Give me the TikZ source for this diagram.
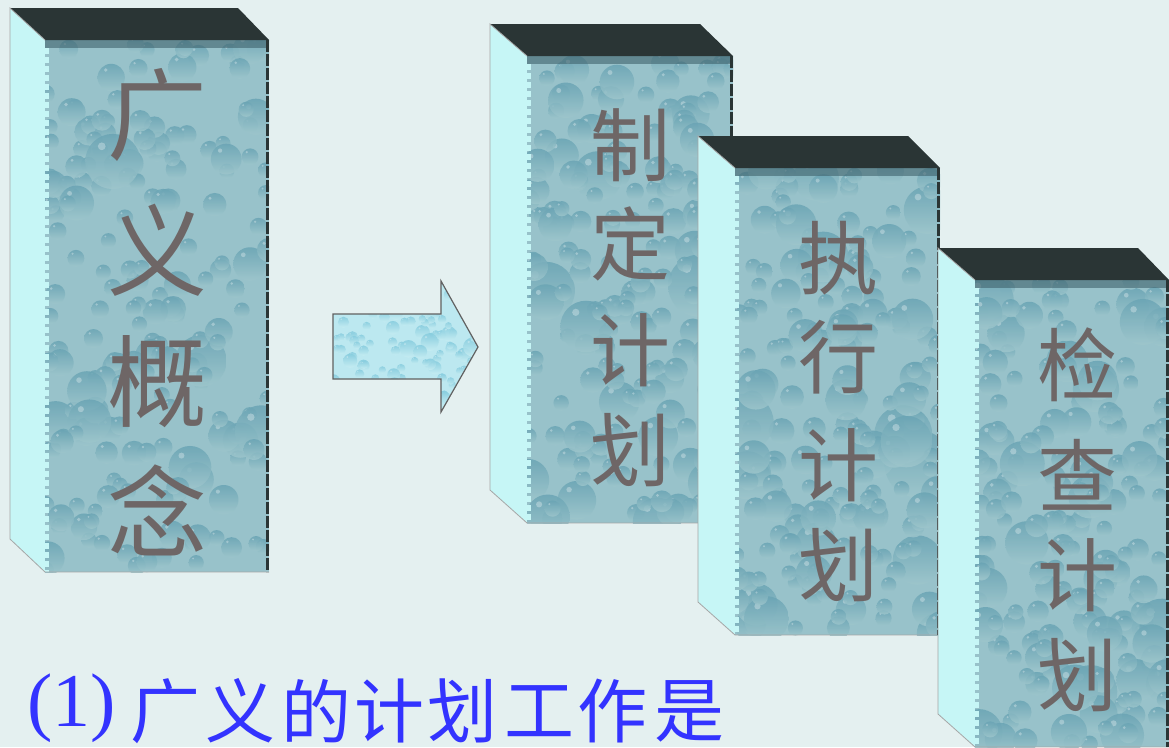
\documentclass[tikz,border=0pt]{standalone}
\usepackage{fontspec}
\setmainfont{Liberation Serif}
\newfontfamily\cjkfont{Noto Sans CJK SC}
\usepackage{tikz}

\definecolor{paper}{HTML}{E4F0F0}
\definecolor{sideface}{HTML}{C6F6F6}
\definecolor{topface}{HTML}{2A3535}
\definecolor{waterbase}{HTML}{98C2CA}
\definecolor{waterdark}{HTML}{6AA4B4}
\definecolor{waterpale}{HTML}{9EC6CC}
\definecolor{icebase}{HTML}{BCE8F0}
\definecolor{icedark}{HTML}{86CCDE}
\definecolor{icepale}{HTML}{C8EEF3}
\definecolor{inkgrey}{HTML}{6E6666}
\definecolor{titleblue}{HTML}{3333FF}

\tikzset{
    boxedge/.style={draw=black!35,line width=0.8pt},
    bigchar/.style={text=inkgrey,font=\cjkfont\fontsize{100}{100}\selectfont,inner sep=0pt},
    midchar/.style={text=inkgrey,font=\cjkfont\fontsize{80}{80}\selectfont,inner sep=0pt},
    titlechar/.style={text=titleblue,font=\cjkfont\fontsize{70}{70}\selectfont,inner sep=0pt,anchor=center},
}

% #1 seed, #2 left, #3 top, #4 right, #5 bottom, #6 dark, #7 pale, #8 count, #9 size
\newcommand{\waterdrops}[9]{
    \pgfmathsetseed{#1}
    \foreach \drop in {1,...,#8} {
        \pgfmathsetmacro\dropx{#2+rnd*(#4-#2)}
        \pgfmathsetmacro\dropy{#3+rnd*(#5-#3)}
        \pgfmathsetmacro\dropr{#9*(0.25+rnd*rnd*rnd)}
        \shade[top color=#6,bottom color=#7,opacity=0.85] (\dropx,\dropy) circle [radius=\dropr];
        \fill[white,opacity=0.3] (\dropx-0.4*\dropr,\dropy-0.55*\dropr) circle [radius=0.14*\dropr];
    }
}

% #1 seed, #2 outer left, #3 top, #4 front left, #5 top back right, #6 right, #7 bottom
\newcommand{\planbox}[7]{
    \pgfmathsetmacro\fronttop{#3+32}
    \pgfmathsetmacro\sidebottom{#7-33}
    \fill[sideface] (#2,#3) -- (#4,\fronttop) -- (#4,#7) -- (#2,\sidebottom) -- cycle;
    \begin{scope}
        \clip (#4,\fronttop) rectangle (#6,#7);
        \fill[waterbase] (#4,\fronttop) rectangle (#6,#7);
        \waterdrops{#1}{#4}{\fronttop}{#6}{#7}{waterdark}{waterpale}{190}{30}
        \fill[waterdark!60!black,opacity=0.6] (#4,\fronttop) rectangle (#6,\fronttop+8);
        \draw[sideface,line width=6pt,dash pattern=on 6pt off 3pt] (#4+1,\fronttop+8) -- (#4+1,#7);
    \end{scope}
    \fill[topface] (#2,#3) -- (#5,#3) -- (#6,\fronttop) -- (#4,\fronttop) -- cycle;
    \draw[boxedge] (#4,\fronttop) -- (#2,#3) -- (#2,\sidebottom) -- (#4,#7) -- (#6,#7);
    \draw[topface,line width=3pt,dash pattern=on 12pt off 2pt] (#6-1.5,\fronttop) -- (#6-1.5,#7);
}

\begin{document}
\begin{tikzpicture}[x=1pt,y=-1pt]
    \useasboundingbox[fill=paper] (0,0) rectangle (1169,747);

    % wide box on the left
    \planbox{11}{10}{8}{45}{238}{269}{572}
    \node [bigchar] (guang) at (157,115) {广};
    \node [bigchar] (yi) at (157,250) {义};
    \node [bigchar] (gai) at (157,382) {概};
    \node [bigchar] (nian) at (157,510) {念};

    % arrow between them
    \begin{scope}
        \clip (333,314) -- (441,314) -- (441,281) -- (478,347) -- (441,412) -- (441,379) -- (333,379) -- cycle;
        \fill[icebase] (333,281) rectangle (478,412);
        \waterdrops{5}{333}{285}{478}{410}{icedark}{icepale}{130}{14}
    \end{scope}
    \draw[black!62,line width=1.2pt] (333,314) -- (441,314) -- (441,281) -- (478,347) -- (441,412) -- (441,379) -- (333,379) -- cycle;

    % the three stacked boxes
    \planbox{21}{490}{24}{527}{700}{733}{523}
    \node [midchar] (zhi) at (630,145) {制};
    \node [midchar] (ding) at (630,244) {定};
    \node [midchar] (ji1) at (630,350) {计};
    \node [midchar] (hua1) at (630,450) {划};

    \planbox{32}{698}{136}{735}{908}{940}{635}
    \node [midchar] (zhix) at (838,258) {执};
    \node [midchar] (xing) at (838,357) {行};
    \node [midchar] (ji2) at (838,465) {计};
    \node [midchar] (hua2) at (838,565) {划};

    \planbox{43}{938}{248}{975}{1138}{1169}{747}
    \node [midchar] (jian) at (1077,365) {检};
    \node [midchar] (cha) at (1077,475) {查};
    \node [midchar] (ji3) at (1077,575) {计};
    \node [midchar] (hua3) at (1077,675) {划};

    % line of text at the bottom
    \node [text=titleblue,font=\fontsize{76}{76}\selectfont,inner sep=0pt] (num) at (72,708) {(1)};
    \node [titlechar] (t1) at (165,711) {广};
    \node [titlechar] (t2) at (240,711) {义};
    \node [titlechar] (t3) at (316,711) {的};
    \node [titlechar] (t4) at (389,711) {计};
    \node [titlechar] (t5) at (462,711) {划};
    \node [titlechar] (t6) at (539,711) {工};
    \node [titlechar] (t7) at (612,711) {作};
    \node [titlechar] (t8) at (689,711) {是};
\end{tikzpicture}
\end{document}
